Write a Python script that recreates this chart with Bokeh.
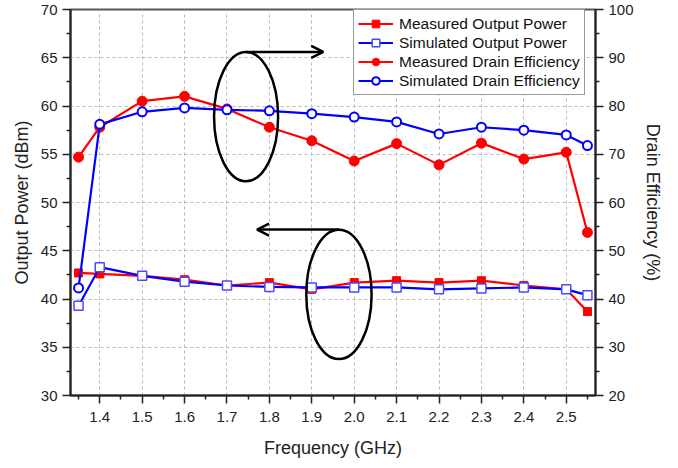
from bokeh.plotting import figure
from bokeh.models import (Range1d, LinearAxis, FixedTicker, NumeralTickFormatter,
                          Legend, LegendItem, Arrow, OpenHead, ColumnDataSource)
from bokeh.embed import file_html
from bokeh.resources import INLINE

# ---- data ----
freq = [1.35, 1.4, 1.5, 1.6, 1.7, 1.8, 1.9, 2.0, 2.1, 2.2, 2.3, 2.4, 2.5, 2.55]
meas_pout = [42.7, 42.6, 42.4, 42.0, 41.4, 41.7, 41.0, 41.7, 41.9, 41.7, 41.9, 41.4, 41.0, 38.7]
sim_pout = [39.3, 43.3, 42.4, 41.8, 41.4, 41.25, 41.2, 41.2, 41.2, 41.0, 41.1, 41.2, 41.0, 40.4]
meas_eff = [69.4, 75.6, 81.0, 82.0, 79.4, 75.6, 72.8, 68.6, 72.2, 67.8, 72.3, 69.0, 70.4, 53.8]
sim_eff = [42.3, 76.2, 78.8, 79.6, 79.2, 79.0, 78.4, 77.7, 76.7, 74.2, 75.6, 75.0, 74.0, 71.8]

x_major = [1.4, 1.5, 1.6, 1.7, 1.8, 1.9, 2.0, 2.1, 2.2, 2.3, 2.4, 2.5]
x_minor = [1.35, 1.45, 1.55, 1.65, 1.75, 1.85, 1.95, 2.05, 2.15, 2.25, 2.35, 2.45, 2.55]
y_left_major = [30, 35, 40, 45, 50, 55, 60, 65, 70]
y_left_minor = [32.5, 37.5, 42.5, 47.5, 52.5, 57.5, 62.5, 67.5]
y_right_major = [20, 30, 40, 50, 60, 70, 80, 90, 100]
y_right_minor = [25, 35, 45, 55, 65, 75, 85, 95]

labels = ["Measured Output Power", "Simulated Output Power",
          "Measured Drain Efficiency", "Simulated Drain Efficiency"]

# annotation ellipses (left-axis data units) and arrows
ell_x = [1.745, 1.964]
ell_y = [58.9, 40.47]
ell_w = [0.151, 0.154]
ell_h = [13.4, 13.4]
arr_x0 = [1.745, 1.964]
arr_x1 = [1.927, 1.771]
arr_y = [65.6, 47.2]

FONT = "Liberation Sans"
RED = "#ff0000"
BLUE = "#0000ff"
AXC = "#222222"

p = figure(width=672, height=463, output_backend="svg", toolbar_location=None,
           x_range=Range1d(1.331, 2.569), y_range=Range1d(30, 70),
           min_border_left=70, min_border_right=77, min_border_top=9, min_border_bottom=68)
p.extra_y_ranges = {"eff": Range1d(20, 100)}
p.background_fill_color = "white"
p.border_fill_color = "white"
p.outline_line_color = "#555555"
p.outline_line_width = 2

# axes styling
xa = p.xaxis[0]
ya = p.yaxis[0]
xa.ticker = FixedTicker(ticks=x_major, minor_ticks=x_minor)
xa.formatter = NumeralTickFormatter(format="0.0")
ya.ticker = FixedTicker(ticks=y_left_major, minor_ticks=y_left_minor)
xa.axis_label = "Frequency (GHz)"
ya.axis_label = "Output Power (dBm)"

ra = LinearAxis(y_range_name="eff", axis_label="Drain Efficiency (%)")
ra.ticker = FixedTicker(ticks=y_right_major, minor_ticks=y_right_minor)
p.add_layout(ra, "right")

for ax in (xa, ya, ra):
    ax.axis_line_color = AXC
    ax.axis_line_width = 2
    ax.major_tick_line_color = AXC
    ax.minor_tick_line_color = AXC
    ax.major_tick_line_width = 1.5
    ax.minor_tick_line_width = 1.5
    ax.major_tick_out = 8
    ax.major_tick_in = 0
    ax.minor_tick_out = 4
    ax.minor_tick_in = 0
    ax.major_label_text_font = FONT
    ax.major_label_text_font_size = "15px"
    ax.major_label_text_color = "#222222"
    ax.axis_label_text_font = FONT
    ax.axis_label_text_font_size = "18px"
    ax.axis_label_text_font_style = "normal"
    ax.axis_label_text_color = "#222222"
    ax.major_label_standoff = 5
    ax.axis_label_standoff = 6
xa.major_label_standoff = 8
xa.axis_label_standoff = 13

# grid
p.xgrid.ticker = FixedTicker(ticks=x_major)
p.ygrid.ticker = FixedTicker(ticks=y_left_major)
for g in (p.xgrid[0], p.ygrid[0]):
    g.grid_line_color = "#b8b8b8"
    g.grid_line_dash = "3 3"
    g.grid_line_width = 1

src = ColumnDataSource(dict(freq=freq, mp=meas_pout, sp=sim_pout, me=meas_eff, se=sim_eff))

r1l = p.line("freq", "mp", source=src, line_color=RED, line_width=2.2)
r1m = p.scatter("freq", "mp", source=src, marker="square", size=8, fill_color=RED, line_color=RED)
r2l = p.line("freq", "sp", source=src, line_color=BLUE, line_width=2.2)
r2m = p.scatter("freq", "sp", source=src, marker="square", size=9, fill_color="white",
                line_color="#4a4aff", line_width=1.5)
r3l = p.line("freq", "me", source=src, line_color=RED, line_width=2.2, y_range_name="eff")
r3m = p.scatter("freq", "me", source=src, marker="circle", size=10, fill_color=RED, line_color=RED,
                y_range_name="eff")
r4l = p.line("freq", "se", source=src, line_color=BLUE, line_width=2.2, y_range_name="eff")
r4m = p.scatter("freq", "se", source=src, marker="circle", size=9, fill_color="white",
                line_color=BLUE, line_width=2, y_range_name="eff")

# annotations
p.ellipse(x=ell_x, y=ell_y, width=ell_w, height=ell_h, fill_color=None,
          line_color="black", line_width=2.5)
for i in range(2):
    p.add_layout(Arrow(end=OpenHead(size=12, line_width=2.5, line_color="black"),
                       x_start=arr_x0[i], y_start=arr_y[i], x_end=arr_x1[i], y_end=arr_y[i],
                       line_width=2.5, line_color="black"))

legend = Legend(items=[
    LegendItem(label=labels[0], renderers=[r1l, r1m]),
    LegendItem(label=labels[1], renderers=[r2l, r2m]),
    LegendItem(label=labels[2], renderers=[r3l, r3m]),
    LegendItem(label=labels[3], renderers=[r4l, r4m]),
], location=(283, 300))
legend.label_text_font = FONT
legend.label_text_font_size = "15.5px"
legend.label_text_color = "#111111"
legend.glyph_width = 35
legend.glyph_height = 19
legend.label_height = 19
legend.label_standoff = 6
legend.spacing = 0
legend.padding = 4
legend.margin = 0
legend.border_line_color = "#333333"
legend.border_line_width = 1
legend.background_fill_alpha = 1
p.add_layout(legend)

open("out.html", "w").write(file_html(p, INLINE))
